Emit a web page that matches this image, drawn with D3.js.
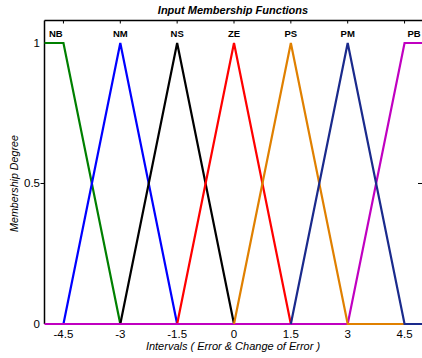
<!DOCTYPE html>
<html>
<head>
<meta charset="utf-8">
<script src="https://cdn.jsdelivr.net/npm/d3@7"></script>
<style>
  html, body { margin: 0; padding: 0; background: #fff; }
  svg { display: block; font-family: "Liberation Sans", Arial, sans-serif; }
</style>
</head>
<body>
<svg id="chart" width="422" height="358"></svg>
<script>
const xTicks = [-4.5, -3, -1.5, 0, 1.5, 3, 4.5]
const yTicks = [0, 0.5, 1]
const mfNames = ['NB', 'NM', 'NS', 'ZE', 'PS', 'PM', 'PB']
const mfColors = ['#008000', '#0000ff', '#000000', '#ff0000', '#e08000', '#1a2a8c', '#c000c0']
const mfLabelX = [-4.7, -3, -1.5, 0, 1.5, 3, 4.75]
// breakpoints [x, mu] for each function, in drawing order below
const mfNB = [[-5, 1], [-4.5, 1], [-3, 0]]
const mfNM = [[-4.5, 0], [-3, 1], [-1.5, 0]]
const mfNS = [[-3, 0], [-1.5, 1], [0, 0]]
const mfZE = [[-1.5, 0], [0, 1], [1.5, 0]]
const mfPB = [[-5, 0], [3, 0], [4.5, 1], [5, 1]]
const mfPS = [[0, 0], [1.5, 1], [3, 0], [5, 0]]
const mfPM = [[1.5, 0], [3, 1], [4.5, 0], [5, 0]]

const drawOrder = [
  { pts: mfNB, color: mfColors[0] },
  { pts: mfNM, color: mfColors[1] },
  { pts: mfNS, color: mfColors[2] },
  { pts: mfZE, color: mfColors[3] },
  { pts: mfPB, color: mfColors[6] },
  { pts: mfPS, color: mfColors[4] },
  { pts: mfPM, color: mfColors[5] }
]

const svg = d3.select('#chart')
const x = d3.scaleLinear().domain([-5, 5]).range([44.5, 423.5])
const y = d3.scaleLinear().domain([0, 1.08]).range([324, 20.5])

// frame
svg.append('line')
  .attr('x1', x(-5)).attr('x2', 422).attr('y1', y(1.08)).attr('y2', y(1.08))
  .attr('stroke', '#000').attr('stroke-width', 1.5)
svg.append('line')
  .attr('x1', x(-5)).attr('x2', x(-5)).attr('y1', y(1.08)).attr('y2', y(0))
  .attr('stroke', '#000').attr('stroke-width', 1.5)

// top ticks
svg.selectAll('line.ttick').data(xTicks).join('line')
  .attr('class', 'ttick')
  .attr('x1', d => x(d)).attr('x2', d => x(d))
  .attr('y1', y(1.08)).attr('y2', y(1.08) + 3)
  .attr('stroke', '#000').attr('stroke-width', 1)

// y ticks
svg.append('line')
  .attr('x1', x(-5) - 4).attr('x2', x(-5)).attr('y1', y(0.5)).attr('y2', y(0.5))
  .attr('stroke', '#000')
svg.append('line')
  .attr('x1', 418).attr('x2', 422).attr('y1', y(0.5)).attr('y2', y(0.5))
  .attr('stroke', '#000')

svg.selectAll('text.ylab').data(yTicks).join('text')
  .attr('class', 'ylab')
  .attr('x', 40).attr('y', d => y(d) + 4)
  .attr('text-anchor', 'end')
  .attr('font-size', 11.5)
  .text(d => d)

svg.selectAll('text.xlab').data(xTicks).join('text')
  .attr('class', 'xlab')
  .attr('x', d => x(d)).attr('y', 338)
  .attr('text-anchor', 'middle')
  .attr('font-size', 11.5)
  .text(d => d)

// membership functions
const line = d3.line().x(d => x(d[0])).y(d => y(d[1]))
svg.selectAll('path.mf').data(drawOrder).join('path')
  .attr('class', 'mf')
  .attr('d', d => line(d.pts))
  .attr('fill', 'none')
  .attr('stroke', d => d.color)
  .attr('stroke-width', 2.2)
  .attr('stroke-linejoin', 'miter')

svg.selectAll('text.mfname').data(mfNames).join('text')
  .attr('class', 'mfname')
  .attr('x', (d, i) => x(mfLabelX[i])).attr('y', 37)
  .attr('text-anchor', 'middle')
  .attr('font-size', 9.5)
  .attr('font-weight', 'bold')
  .text(d => d)

// titles
svg.append('text')
  .attr('x', 233).attr('y', 13.5)
  .attr('text-anchor', 'middle')
  .attr('font-size', 11).attr('font-weight', 'bold').attr('font-style', 'italic')
  .text('Input Membership Functions')

svg.append('text')
  .attr('x', 233).attr('y', 349.5)
  .attr('text-anchor', 'middle')
  .attr('font-size', 11).attr('font-style', 'italic')
  .text('Intervals ( Error & Change of Error )')

svg.append('text')
  .attr('transform', `translate(18, ${y(0.5)}) rotate(-90)`)
  .attr('text-anchor', 'middle')
  .attr('font-size', 10.7).attr('font-style', 'italic')
  .text('Membership Degree')
</script>
</body>
</html>
